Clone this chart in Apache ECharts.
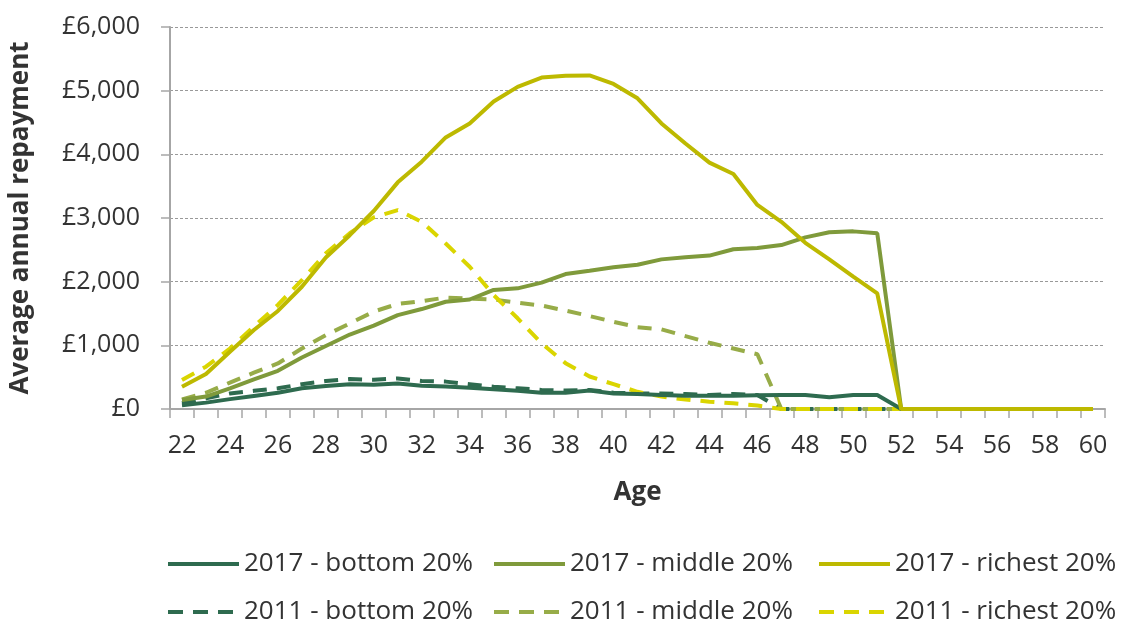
<!DOCTYPE html>
<html><head><meta charset="utf-8">
<script src="https://cdn.jsdelivr.net/npm/echarts@6/dist/echarts.min.js"></script>
<style>html,body{margin:0;padding:0;background:#fff}#c{width:1121px;height:621px}</style>
</head><body><div id="c"></div>
<script>
const ages = [];
for (let a = 22; a <= 60; a++) ages.push(String(a));
const yTicks = [0, 1000, 2000, 3000, 4000, 5000, 6000];

const bottom2017 = [60,100,155,205,255,325,360,390,380,400,365,355,335,310,285,255,255,290,245,235,220,210,210,210,215,220,220,185,220,220,0,0,0,0,0,0,0,0,0];
const middle2017 = [140,195,325,465,600,810,990,1170,1310,1475,1570,1685,1720,1870,1895,1985,2120,2170,2225,2265,2350,2385,2410,2510,2530,2575,2695,2775,2790,2760,0,0,0,0,0,0,0,0,0];
const richest2017 = [350,550,900,1240,1540,1920,2380,2730,3110,3560,3885,4265,4485,4830,5060,5205,5235,5240,5105,4880,4485,4170,3870,3690,3205,2940,2610,2350,2080,1815,0,0,0,0,0,0,0,0,0];
const bottom2011 = [90,170,245,285,325,390,440,470,460,480,440,430,390,350,325,300,290,300,255,245,245,235,220,235,220,0,0,0,0,0,0,0,0,0,0,0,0,0,0];
const middle2011 = [150,255,415,570,715,950,1160,1345,1530,1650,1695,1750,1735,1720,1670,1625,1545,1460,1370,1285,1250,1145,1040,950,860,0,0,0,0,0,0,0,0,0,0,0,0,0,0];
const richest2011 = [455,665,950,1295,1635,2025,2445,2760,3010,3125,2940,2600,2235,1790,1425,1030,720,510,390,270,195,150,115,90,55,0,0,0,0,0,0,0,0,0,0,0,0,0,0];

const seriesDefs = [
  {name:'2017 - bottom 20%', data:bottom2017, color:'#2E6B4F', dash:false},
  {name:'2017 - middle 20%', data:middle2017, color:'#7F9A3B', dash:false},
  {name:'2017 - richest 20%', data:richest2017, color:'#BDB900', dash:false},
  {name:'2011 - bottom 20%', data:bottom2011, color:'#2E6B4F', dash:true},
  {name:'2011 - middle 20%', data:middle2011, color:'#97AC48', dash:true},
  {name:'2011 - richest 20%', data:richest2011, color:'#DAD500', dash:true}
];

const FONT = '"Open Sans", "Noto Sans", sans-serif';
const legendLeft = [166, 492, 817];
const legendTop = [551, 599];

const chart = echarts.init(document.getElementById('c'), null, {renderer:'canvas'});
chart.setOption({
  animation:false,
  textStyle:{fontFamily:FONT},
  grid:{left:169, right:16, top:27, bottom:212, containLabel:false},
  legend: seriesDefs.map((s,i)=>({
    data:[s.name],
    left:legendLeft[i%3], top:legendTop[Math.floor(i/3)],
    itemWidth:71, itemHeight:24, itemGap:0, padding:0,
    itemStyle:{opacity:0, borderWidth:0},
    lineStyle:{width:4, color:s.color, type:s.dash?[15,10]:'solid', cap:'butt'},
    textStyle:{fontFamily:FONT, fontSize:26, color:'#333333'},
    selectedMode:false
  })),
  xAxis:{
    type:'category', data:ages, boundaryGap:true,
    name:'Age', nameLocation:'middle', nameGap:71,
    nameTextStyle:{fontFamily:FONT, fontSize:26, fontWeight:'bold', color:'#333333'},
    axisLine:{lineStyle:{color:'#A6A6A6', width:2}},
    axisTick:{show:true, interval:0, length:9, lineStyle:{color:'#A6A6A6', width:1.5}},
    axisLabel:{interval:1, fontFamily:FONT, fontSize:25, color:'#333333', margin:24},
    splitLine:{show:false}
  },
  yAxis:{
    type:'value', min:0, max:6000, interval:1000,
    name:'Average annual repayment', nameLocation:'middle', nameGap:136, nameRotate:90,
    nameTextStyle:{fontFamily:FONT, fontSize:26, fontWeight:'bold', color:'#333333'},
    axisLine:{show:true, lineStyle:{color:'#A6A6A6', width:2}},
    axisTick:{show:true, length:9, lineStyle:{color:'#A6A6A6', width:1.5}},
    axisLabel:{fontFamily:FONT, fontSize:25, color:'#333333', margin:30,
      formatter:v=>'£'+v.toLocaleString('en-GB')},
    splitLine:{show:true, lineStyle:{color:'#999999', type:[3,2], width:1}}
  },
  series: seriesDefs.map(s=>({
    name:s.name, type:'line', data:s.data, symbol:'none', smooth:false,
    itemStyle:{color:s.color},
    lineStyle:{color:s.color, width:4, type:s.dash?[14,10]:'solid', cap:'butt'},
    z: s.dash?2:3
  }))
});
</script></body></html>
